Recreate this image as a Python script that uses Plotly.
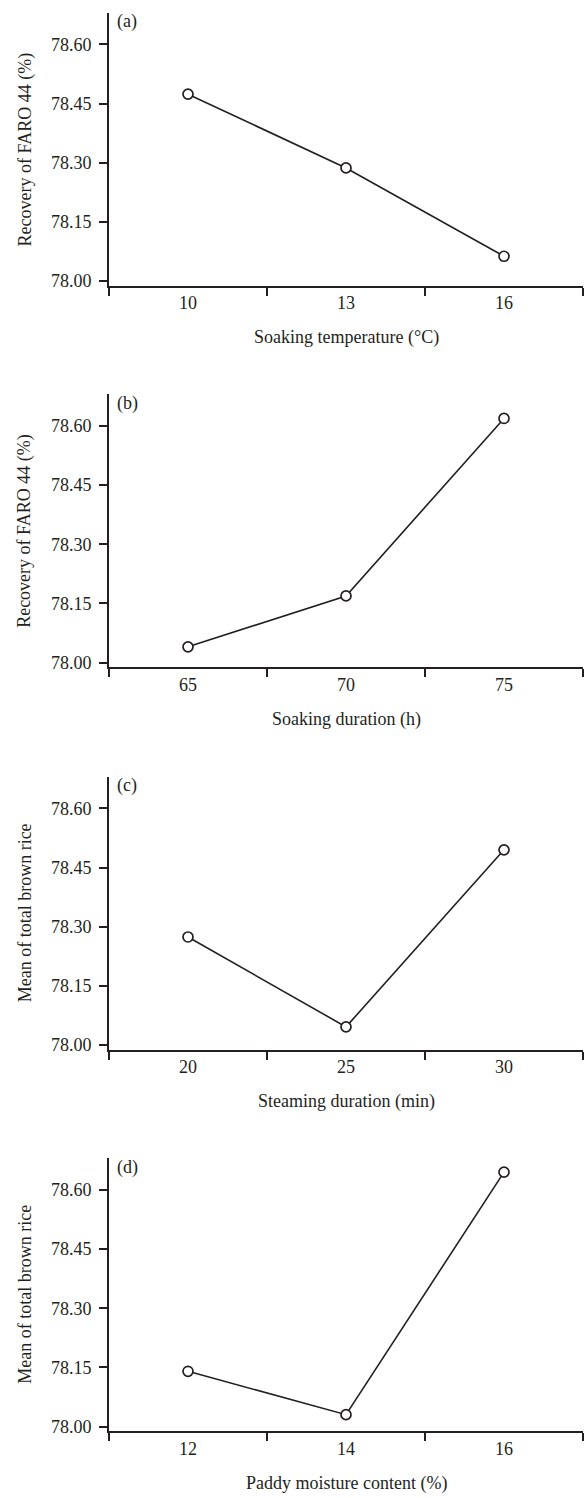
import plotly.graph_objects as go

# Factor levels (x categories) for each panel
temp_levels = ["10", "13", "16"]
soak_levels = ["65", "70", "75"]
steam_levels = ["20", "25", "30"]
moist_levels = ["12", "14", "16"]

# Mean responses at each level
recovery_temp = [78.474, 78.287, 78.063]
recovery_soak = [78.040, 78.169, 78.619]
brown_steam = [78.274, 78.046, 78.495]
brown_moist = [78.140, 78.030, 78.645]

panel_tags = ["(a)", "(b)", "(c)", "(d)"]
x_titles = ["Soaking temperature (°C)", "Soaking duration (h)",
            "Steaming duration (min)", "Paddy moisture content (%)"]
y_titles = ["Recovery of FARO 44 (%)", "Recovery of FARO 44 (%)",
            "Mean of total brown rice", "Mean of total brown rice"]
y_ticks = [78.00, 78.15, 78.30, 78.45, 78.60]

W, H = 587, 1498
FONT = "Liberation Serif, Times New Roman, serif"
INK = "#231f20"
FS = 18
panel_tops = [13, 396, 780, 1163]
panel_h = 274
x0_px, x1_px = 109, 583

panels = [
    (temp_levels, recovery_temp),
    (soak_levels, recovery_soak),
    (steam_levels, brown_steam),
    (moist_levels, brown_moist),
]

fig = go.Figure()
annotations = []
for i, (cats, vals) in enumerate(panels):
    n = i + 1
    xa = "x" if n == 1 else f"x{n}"
    ya = "y" if n == 1 else f"y{n}"
    fig.add_trace(go.Scatter(
        x=cats, y=vals, xaxis=xa, yaxis=ya, mode="lines+markers",
        line=dict(color=INK, width=1.6),
        marker=dict(symbol="circle", size=10, color="white",
                    line=dict(color=INK, width=1.7)),
        showlegend=False, cliponaxis=False,
    ))
    top = panel_tops[i]
    bot = top + panel_h
    dom_y = [1 - bot / H, 1 - top / H]
    dom_x = [x0_px / W, x1_px / W]
    axis_common = dict(showline=True, linecolor=INK, linewidth=1.6,
                       ticks="outside", ticklen=8, tickwidth=1.6,
                       tickcolor=INK, showgrid=False, zeroline=False,
                       tickfont=dict(family=FONT, size=FS, color=INK))
    fig.update_layout(**{
        ("xaxis" if n == 1 else f"xaxis{n}"): dict(
            domain=dom_x, anchor=ya, type="category",
            categoryorder="array", categoryarray=cats,
            range=[-0.5, 2.5], tickson="boundaries", **axis_common),
        ("yaxis" if n == 1 else f"yaxis{n}"): dict(
            domain=dom_y, anchor=xa, range=[77.988, 78.68],
            tickvals=y_ticks, tickformat=".2f", ticklabelstandoff=4,
            **axis_common),
    })
    # panel tag
    annotations.append(dict(
        text=panel_tags[i], xref="paper", yref="paper",
        x=(x0_px + 6) / W, y=1 - (top + 9) / H, xanchor="left", yanchor="middle",
        showarrow=False, font=dict(family=FONT, size=FS, color=INK)))
    # x-axis title
    annotations.append(dict(
        text=x_titles[i], xref="paper", yref="paper",
        x=(x0_px + x1_px) / 2 / W, y=1 - (bot + 52) / H,
        xanchor="center", yanchor="middle",
        showarrow=False, font=dict(family=FONT, size=FS, color=INK)))
    # y-axis title
    annotations.append(dict(
        text=y_titles[i], xref="paper", yref="paper",
        x=25 / W, y=1 - (top + panel_h / 2) / H,
        xanchor="center", yanchor="middle", textangle=-90,
        showarrow=False, font=dict(family=FONT, size=FS, color=INK)))

fig.update_layout(
    width=W, height=H, margin=dict(l=0, r=0, t=0, b=0),
    paper_bgcolor="white", plot_bgcolor="white",
    annotations=annotations,
)

fig.write_html("out.html")
